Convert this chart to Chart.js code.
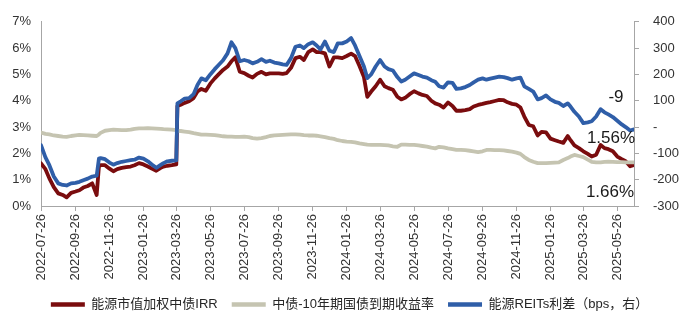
<!DOCTYPE html>
<html>
<head>
<meta charset="utf-8">
<script src="https://cdn.jsdelivr.net/npm/chart.js@4.4.1/dist/chart.umd.min.js"></script>
<style>
  html, body { margin: 0; padding: 0; background: #ffffff; }
  canvas { display: block; }
</style>
</head>
<body>
<canvas id="chart" width="699" height="326"></canvas>
<script>
// Observation dates (roughly weekly)
const dates = [
  '2022-07-26','2022-08-03','2022-08-10','2022-08-18','2022-08-26','2022-09-03','2022-09-10','2022-09-18','2022-09-26',
  '2022-10-03','2022-10-10','2022-10-18','2022-10-26','2022-11-03','2022-11-07','2022-11-10','2022-11-18','2022-11-26',
  '2022-12-03','2022-12-10','2022-12-18','2022-12-26',
  '2023-01-03','2023-01-10','2023-01-18','2023-01-26','2023-02-03','2023-02-10','2023-02-18','2023-02-26',
  '2023-03-03','2023-03-10','2023-03-18','2023-03-26','2023-03-28','2023-04-03','2023-04-10','2023-04-18','2023-04-26',
  '2023-05-03','2023-05-10','2023-05-18','2023-05-26','2023-06-03','2023-06-10','2023-06-18','2023-06-26',
  '2023-07-03','2023-07-10','2023-07-18','2023-07-26','2023-08-03','2023-08-10','2023-08-18','2023-08-26',
  '2023-09-03','2023-09-10','2023-09-18','2023-09-26','2023-10-03','2023-10-10','2023-10-18','2023-10-26',
  '2023-11-03','2023-11-10','2023-11-18','2023-11-26','2023-12-03','2023-12-10','2023-12-18','2023-12-26',
  '2024-01-03','2024-01-10','2024-01-18','2024-01-26','2024-02-03','2024-02-10','2024-02-18','2024-02-26',
  '2024-03-03','2024-03-10','2024-03-18','2024-03-26','2024-04-03','2024-04-10','2024-04-18','2024-04-26',
  '2024-05-03','2024-05-10','2024-05-18','2024-05-26','2024-06-03','2024-06-10','2024-06-18','2024-06-26',
  '2024-07-03','2024-07-10','2024-07-18','2024-07-26','2024-08-03','2024-08-10','2024-08-18','2024-08-26',
  '2024-09-03','2024-09-10','2024-09-18','2024-09-26','2024-10-03','2024-10-10','2024-10-18','2024-10-26',
  '2024-11-03','2024-11-10','2024-11-18','2024-11-26','2024-12-03','2024-12-10','2024-12-18','2024-12-26',
  '2025-01-03','2025-01-10','2025-01-18','2025-01-26','2025-02-03','2025-02-10','2025-02-18','2025-02-26',
  '2025-03-03','2025-03-10','2025-03-18','2025-03-26','2025-04-03','2025-04-10','2025-04-18','2025-04-26',
  '2025-05-03','2025-05-10','2025-05-18','2025-05-26','2025-06-03','2025-06-10','2025-06-18','2025-06-25'
];

// 能源市值加权中债IRR (%)
const irr = [
  1.62,1.40,1.05,0.72,0.48,0.42,0.33,0.50,0.55,
  0.60,0.70,0.76,0.86,0.42,1.50,1.55,1.55,1.42,
  1.32,1.40,1.45,1.48,
  1.50,1.55,1.63,1.58,1.50,1.42,1.34,1.45,
  1.50,1.53,1.55,1.58,3.80,3.85,3.92,3.98,4.10,
  4.35,4.45,4.38,4.65,4.85,5.00,5.17,5.30,
  5.50,5.65,5.10,5.05,4.95,4.88,5.02,5.10,
  5.00,5.04,5.04,5.04,5.02,5.05,5.25,5.62,
  5.67,5.55,5.85,5.95,5.85,5.85,5.80,5.30,
  5.65,5.65,5.62,5.70,5.79,5.70,5.32,4.90,
  4.15,4.35,4.55,4.80,4.55,4.48,4.42,4.15,
  4.05,4.11,4.25,4.36,4.28,4.22,4.18,4.00,
  3.90,3.85,3.74,3.93,3.80,3.62,3.62,3.64,
  3.68,3.78,3.84,3.88,3.92,3.95,3.99,4.03,
  4.02,3.94,3.88,3.85,3.74,3.40,3.08,3.03,
  2.68,2.82,2.80,2.56,2.50,2.45,2.40,2.66,
  2.50,2.30,2.20,2.08,1.98,1.88,1.95,2.32,
  2.20,2.16,2.08,1.88,1.78,1.70,1.51,1.56
];

// 中债-10年期国债到期收益率 (%)
const cgb10 = [
  2.79,2.74,2.72,2.68,2.66,2.64,2.63,2.66,2.68,
  2.70,2.69,2.68,2.67,2.66,2.72,2.78,2.86,2.88,
  2.90,2.89,2.88,2.88,
  2.90,2.93,2.95,2.95,2.96,2.95,2.94,2.93,
  2.92,2.91,2.90,2.88,2.86,2.85,2.83,2.81,2.77,
  2.74,2.71,2.71,2.70,2.69,2.67,2.65,2.64,
  2.64,2.63,2.63,2.64,2.62,2.58,2.56,2.58,
  2.62,2.66,2.68,2.69,2.70,2.71,2.72,2.72,
  2.71,2.69,2.68,2.68,2.67,2.65,2.62,2.58,
  2.55,2.50,2.47,2.45,2.44,2.42,2.38,2.35,
  2.33,2.32,2.32,2.32,2.31,2.30,2.27,2.25,
  2.33,2.33,2.32,2.32,2.30,2.28,2.26,2.22,
  2.19,2.25,2.23,2.19,2.16,2.13,2.13,2.12,
  2.10,2.08,2.05,2.08,2.13,2.13,2.12,2.12,
  2.11,2.09,2.07,2.03,1.98,1.86,1.75,1.68,
  1.63,1.63,1.63,1.64,1.65,1.66,1.75,1.82,
  1.88,1.94,1.90,1.86,1.76,1.68,1.66,1.66,
  1.68,1.69,1.68,1.67,1.67,1.66,1.66,1.66
];

// 能源REITs利差 (bps, right axis)
const spread = [
  -69,-115,-145,-188,-214,-220,-222,-214,-212,
  -208,-202,-196,-188,-185,-120,-118,-122,-135,
  -143,-137,-132,-129,
  -126,-124,-116,-120,-130,-142,-155,-144,
  -137,-130,-128,-127,90,98,108,110,125,
  160,185,178,200,220,236,254,280,
  322,300,250,255,250,242,248,258,
  248,252,245,242,238,236,262,305,
  310,300,315,322,310,295,325,290,
  285,318,318,325,338,310,270,230,
  186,200,230,255,230,220,215,190,
  173,180,192,204,198,192,188,178,
  172,155,150,170,168,145,147,152,
  160,170,180,185,180,184,188,192,
  190,186,180,185,188,155,145,135,
  105,110,120,105,96,92,80,90,
  78,58,40,15,18,22,40,68,
  56,48,38,24,10,0,-13,-9
];

// Dates shown on the horizontal axis
const tickDates = [
  '2022-07-26','2022-09-26','2022-11-26','2023-01-26','2023-03-26','2023-05-26',
  '2023-07-26','2023-09-26','2023-11-26','2024-01-26','2024-03-26','2024-05-26',
  '2024-07-26','2024-09-26','2024-11-26','2025-01-26','2025-03-26','2025-05-26'
];

const seriesNames = ['能源市值加权中债IRR', '中债-10年期国债到期收益率', '能源REITs利差（bps，右）'];

const FONT = '"Liberation Sans", "Noto Sans CJK SC", Arial, sans-serif';
const TEXT = '#333333';
const AXIS = '#a6a6a6';

// Day offsets from the first date, used as linear x positions
const DAY_MS = 86400000;
const dayOf = s => {
  const [y, m, d] = s.split('-').map(Number);
  const [y0, m0, d0] = dates[0].split('-').map(Number);
  return (Date.UTC(y, m - 1, d) - Date.UTC(y0, m0 - 1, d0)) / DAY_MS;
};
const xs = dates.map(dayOf);
const toPoints = arr => arr.map((v, i) => ({ x: xs[i], y: v }));
const tickDays = tickDates.map(dayOf);

// Value labels next to the last point of each series
const endLabels = {
  id: 'endLabels',
  afterDatasetsDraw(chart) {
    const ctx = chart.ctx;
    const specs = [
      { ds: 2, text: String(spread[spread.length - 1]), dx: -18, dy: -32 },
      { ds: 0, text: irr[irr.length - 1].toFixed(2) + '%', dx: -23, dy: -27 },
      { ds: 1, text: cgb10[cgb10.length - 1].toFixed(2) + '%', dx: -24, dy: 30 }
    ];
    ctx.save();
    ctx.font = '17px ' + FONT;
    ctx.fillStyle = '#1a1a1a';
    ctx.textAlign = 'center';
    ctx.textBaseline = 'middle';
    specs.forEach(s => {
      const pts = chart.getDatasetMeta(s.ds).data;
      const p = pts[pts.length - 1];
      ctx.fillText(s.text, p.x + s.dx, p.y + s.dy);
    });
    ctx.restore();
  }
};

new Chart(document.getElementById('chart'), {
  type: 'line',
  data: {
    datasets: [
      { label: seriesNames[0], data: toPoints(irr), yAxisID: 'y',
        borderColor: '#7a0c0e', backgroundColor: '#7a0c0e', order: 2 },
      { label: seriesNames[1], data: toPoints(cgb10), yAxisID: 'y',
        borderColor: '#c5c4b1', backgroundColor: '#c5c4b1', order: 1 },
      { label: seriesNames[2], data: toPoints(spread), yAxisID: 'y2',
        borderColor: '#2f5ea8', backgroundColor: '#2f5ea8', order: 0 }
    ]
  },
  options: {
    responsive: false,
    animation: false,
    elements: {
      line: { borderWidth: 3.8, tension: 0, borderJoinStyle: 'round', borderCapStyle: 'round' },
      point: { radius: 0, hoverRadius: 0 }
    },
    layout: { padding: { top: 17, right: 0, bottom: 5, left: 0 } },
    scales: {
      x: {
        type: 'linear',
        min: 0,
        max: xs[xs.length - 1],
        afterBuildTicks: scale => { scale.ticks = tickDays.map(v => ({ value: v })); },
        afterFit: scale => { scale.height = 78; },
        grid: { display: true, drawOnChartArea: false, drawTicks: true, tickLength: 5, color: AXIS },
        border: { display: true, color: AXIS },
        ticks: {
          autoSkip: false, maxRotation: 90, minRotation: 90, padding: 3,
          font: { family: FONT, size: 13 }, color: TEXT,
          callback: v => { const i = tickDays.indexOf(v); return i >= 0 ? tickDates[i] : ''; }
        }
      },
      y: {
        position: 'left',
        min: 0, max: 7,
        afterFit: scale => { scale.width = 41; },
        grid: { display: false, drawTicks: false },
        border: { display: true, color: AXIS },
        ticks: {
          stepSize: 1, padding: 10,
          font: { family: FONT, size: 13 }, color: TEXT,
          callback: v => v + '%'
        }
      },
      y2: {
        position: 'right',
        min: -300, max: 400,
        afterFit: scale => { scale.width = 65; },
        grid: { display: true, drawOnChartArea: false, drawTicks: true, tickLength: 5, color: AXIS },
        border: { display: true, color: AXIS },
        ticks: {
          stepSize: 100, padding: 14,
          font: { family: FONT, size: 13 }, color: TEXT,
          callback: v => (v === 0 ? '-' : String(v))
        }
      }
    },
    plugins: {
      tooltip: { enabled: false },
      legend: {
        position: 'bottom',
        labels: {
          usePointStyle: true,
          pointStyle: 'line',
          pointStyleWidth: 34,
          padding: 14,
          color: '#262626',
          font: { family: FONT, size: 13 },
          sort: (a, b) => a.datasetIndex - b.datasetIndex,
          generateLabels: chart => {
            const items = Chart.defaults.plugins.legend.labels.generateLabels(chart);
            items.forEach(it => { it.lineWidth = 4.5; it.pointStyle = 'line'; });
            return items;
          }
        }
      }
    }
  },
  plugins: [endLabels]
});
</script>
</body>
</html>
